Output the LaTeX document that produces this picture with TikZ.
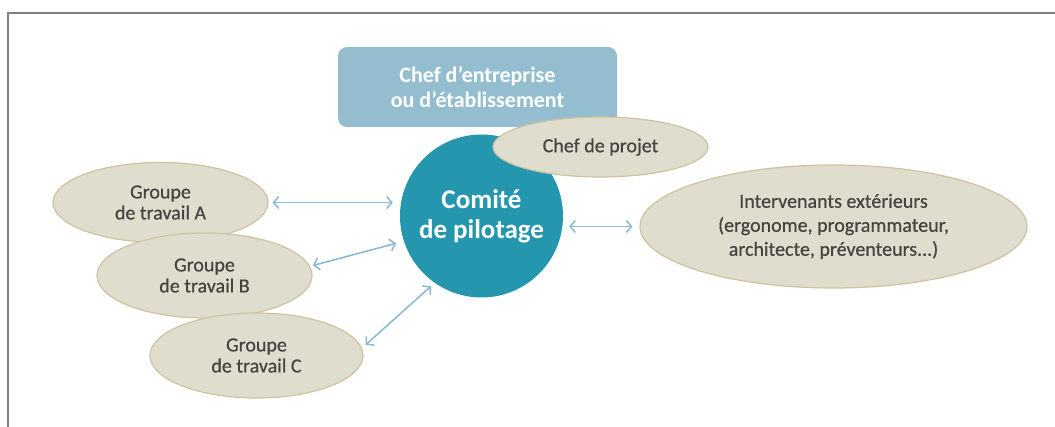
\documentclass[tikz,border=0pt]{standalone}
\usepackage{fontspec}
\setmainfont{Carlito}
\usetikzlibrary{shapes.geometric,arrows.meta}
\definecolor{framegray}{RGB}{128,128,128}
\definecolor{boxblue}{RGB}{148,190,207}
\definecolor{teal}{RGB}{36,150,174}
\definecolor{beige}{RGB}{223,221,206}
\definecolor{beigeline}{RGB}{205,195,160}
\definecolor{arrowblue}{RGB}{142,187,212}
\definecolor{textgray}{RGB}{68,68,64}
\begin{document}
\begin{tikzpicture}[x=1pt,y=-1pt,
  oval/.style={ellipse, draw=beigeline, line width=1.2pt, fill=beige, inner sep=0pt,
    text=textgray, align=center, font=\fontsize{20}{21}\selectfont\addfontfeature{FakeBold=0.6}},
  arr/.style={draw=arrowblue, line width=1.6pt,
    {Straight Barb[length=5pt,width=12pt]}-{Straight Barb[length=5pt,width=12pt]}},
  frameline/.style={draw=framegray, line width=1.6pt}]
\useasboundingbox (0,0) rectangle (1055,427);
\draw[frameline] (8,427) -- (8,13) -- (1056,13);

\node[rounded corners=9pt, fill=boxblue, minimum width=279pt, minimum height=80pt,
  text=white, align=center, font=\fontsize{22}{25}\selectfont\bfseries]
  (ceo) at (477.5,87) {Chef d'entreprise\\ou d'établissement};

\node[circle, fill=teal, minimum size=163pt, inner sep=0pt, text=white, align=center,
  font=\fontsize{27}{30}\selectfont\bfseries] (cp) at (481.5,216) {Comité\\de pilotage};

\node[oval, minimum width=215pt, minimum height=60pt] (proj) at (600.5,147) {Chef de projet};

\node[oval, minimum width=387pt, minimum height=123pt,
  font=\fontsize{20}{24}\selectfont\addfontfeature{FakeBold=0.6}]
  (ext) at (833.5,226.5) {Intervenants extérieurs\\(ergonome, programmateur,\\architecte, préventeurs...)};

\node[oval, minimum width=215pt, minimum height=80pt] (ga) at (160.5,202.5) {Groupe\\de travail A};
\node[oval, minimum width=215pt, minimum height=85pt] (gb) at (204.5,275.5) {Groupe\\de travail B};
\node[oval, minimum width=213pt, minimum height=85pt] (gc) at (256.5,355.5) {Groupe\\de travail C};

\draw[arr, shorten <=4pt, shorten >=7pt] (ga.east) -- (ga.east -| cp.west);
\draw[arr, shorten <=3pt, shorten >=8pt] (gb.5) -- (cp.198);
\draw[arr, shorten <=5pt, shorten >=5pt] (gc.4) -- (cp.235);
\draw[arr, shorten <=6pt, shorten >=7pt] (cp.east |- ext.west) -- (ext.west);
\end{tikzpicture}
\end{document}
